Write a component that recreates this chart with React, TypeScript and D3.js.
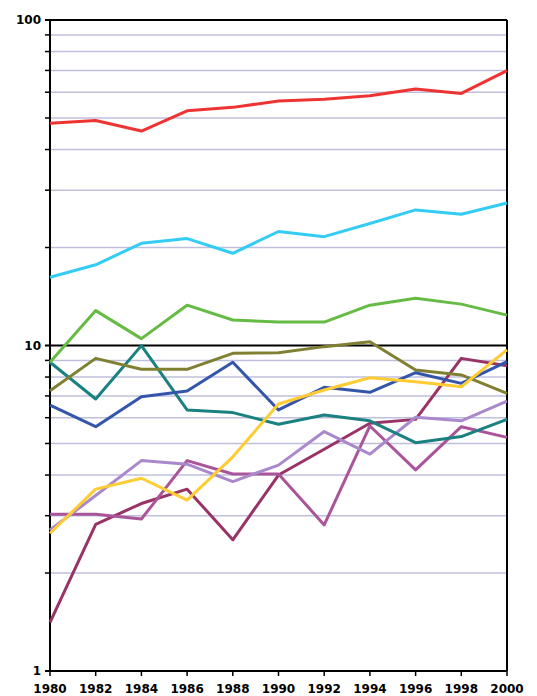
import React from 'react';
import * as d3 from 'd3';

const years = [1980, 1982, 1984, 1986, 1988, 1990, 1992, 1994, 1996, 1998, 2000];

const red = [48.2, 49.1, 45.6, 52.6, 53.9, 56.4, 57.1, 58.5, 61.4, 59.5, 69.9];
const cyan = [16.2, 17.7, 20.6, 21.3, 19.2, 22.4, 21.6, 23.7, 26.1, 25.3, 27.4];
const green = [8.88, 12.8, 10.5, 13.3, 11.98, 11.8, 11.8, 13.3, 13.96, 13.4, 12.4];
const olive = [7.26, 9.13, 8.45, 8.45, 9.46, 9.5, 9.92, 10.27, 8.41, 8.12, 7.13];
const teal = [8.88, 6.85, 9.99, 6.34, 6.22, 5.73, 6.12, 5.87, 5.03, 5.25, 5.93];
const blue = [6.56, 5.63, 6.96, 7.25, 8.88, 6.34, 7.44, 7.18, 8.25, 7.65, 8.92];
const yellow = [2.65, 3.62, 3.91, 3.35, 4.55, 6.61, 7.3, 7.96, 7.74, 7.47, 9.69];
const lilac = [2.71, 3.46, 4.43, 4.32, 3.82, 4.29, 5.44, 4.64, 6.02, 5.87, 6.75];
const orchid = [3.03, 3.03, 2.93, 4.43, 4.03, 4.03, 2.81, 5.66, 4.15, 5.63, 5.22];
const maroon = [1.41, 2.82, 3.27, 3.62, 2.53, 4.0, 4.8, 5.77, 5.93, 9.13, 8.67];

const series = [
  { values: maroon, color: '#993366' },
  { values: orchid, color: '#AA5599' },
  { values: lilac, color: '#AA88CC' },
  { values: teal, color: '#1A8080' },
  { values: olive, color: '#808033' },
  { values: blue, color: '#3355AA' },
  { values: yellow, color: '#FFCC33' },
  { values: green, color: '#66BB44' },
  { values: cyan, color: '#33CCF5' },
  { values: red, color: '#EE3333' },
];

const majorTicks = [1, 10, 100];

export default function App() {
  const left = 50, right = 507, top = 20, bottom = 671;

  const x = d3.scaleLinear().domain([1980, 2000]).range([left, right]);
  const y = d3.scaleLog().domain([1, 100]).range([bottom, top]);

  const minor: number[] = [];
  [1, 10].forEach(d => {
    for (let k = 2; k <= 9; k++) minor.push(d * k);
  });

  const line = d3.line<number>()
    .x((_, i) => x(years[i]))
    .y(d => y(d));

  const font = '"DejaVu Sans", Verdana, sans-serif';

  return (
    <svg width={537} height={696} style={{ position: 'absolute', left: 0, top: 0 }}>
      <rect x={0} y={0} width={537} height={696} fill="#fff" />
      {minor.map(v => (
        <line key={'g' + v} x1={left} x2={right} y1={y(v)} y2={y(v)} stroke="#BFBFDD" strokeWidth={1.5} />
      ))}
      {minor.map(v => (
        <line key={'t' + v} x1={left - 5} x2={left} y1={y(v)} y2={y(v)} stroke="#000" strokeWidth={1.5} />
      ))}
      {majorTicks.map(v => (
        <g key={'m' + v}>
          <line x1={left - 5} x2={right} y1={y(v)} y2={y(v)} stroke="#000" strokeWidth={2} />
          <text x={left - 9} y={y(v)} dy="0.35em" textAnchor="end" fontFamily={font} fontWeight="bold" fontSize={12}>
            {v}
          </text>
        </g>
      ))}
      {years.map(yr => (
        <g key={'x' + yr}>
          <line x1={x(yr)} x2={x(yr)} y1={bottom} y2={bottom + 5} stroke="#000" strokeWidth={1.5} />
          <text x={x(yr)} y={bottom + 18} dy="0.35em" textAnchor="middle" fontFamily={font} fontWeight="bold" fontSize={12}>
            {yr}
          </text>
        </g>
      ))}
      <line x1={left} x2={left} y1={top} y2={bottom} stroke="#000" strokeWidth={2} />
      <line x1={right} x2={right} y1={top} y2={bottom} stroke="#000" strokeWidth={2} />
      {series.map((s, i) => (
        <path key={i} d={line(s.values) || ''} fill="none" stroke={s.color} strokeWidth={3} strokeLinejoin="round" />
      ))}
    </svg>
  );
}
